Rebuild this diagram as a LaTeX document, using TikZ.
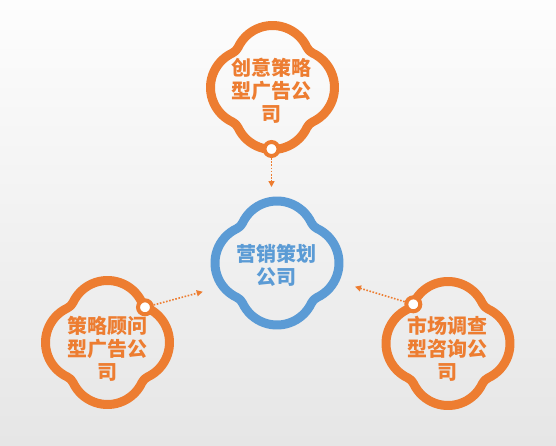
\documentclass[tikz,border=0pt]{standalone}
\usepackage{fontspec}
\newfontfamily\cjk{Noto Sans CJK SC}
\usetikzlibrary{arrows.meta}
\definecolor{orng}{HTML}{ED7D31}
\definecolor{blu}{HTML}{5B9BD5}
\definecolor{bgtop}{HTML}{FDFDFD}
\definecolor{bgbot}{HTML}{E6E6E6}
\newcommand\quatrefoil[2]{%
  \draw[line width=9pt,#2,line join=round]
    ([shift={(40.15,-34.4)}]#1)
    arc[start angle=-64.85,end angle=64.85,radius=38pt]
    arc[start angle=244.85,end angle=205.15,radius=12pt]
    arc[start angle=25.15,end angle=154.85,radius=38pt]
    arc[start angle=334.85,end angle=295.15,radius=12pt]
    arc[start angle=115.15,end angle=244.85,radius=38pt]
    arc[start angle=64.85,end angle=25.15,radius=12pt]
    arc[start angle=205.15,end angle=334.85,radius=38pt]
    arc[start angle=154.85,end angle=115.15,radius=12pt]
    -- cycle;}
\tikzset{
  lbl/.style={align=center,inner sep=0pt,font=\cjk\bfseries\fontsize{20}{23}\selectfont},
  knob/.style={circle,draw=orng,fill=white,line width=4pt,minimum size=14pt,inner sep=0pt},
  link/.style={orng,line width=1.6pt,dash pattern=on 1.6pt off 1.6pt,-{Triangle[length=6pt,width=6pt]}},
}
\begin{document}
\begin{tikzpicture}[x=1pt,y=1pt]
\shade[top color=bgtop,bottom color=bgbot] (0,0) rectangle (556,445);
\useasboundingbox (0,0) rectangle (556,445);
% centres
\coordinate (ctop) at (272.5,357.5);
\coordinate (cmid) at (277,182);
\coordinate (cleft) at (107.5,102.5);
\coordinate (cright) at (448,101.5);
% outlines
\quatrefoil{ctop}{orng}
\quatrefoil{cmid}{blu}
\quatrefoil{cleft}{orng}
\quatrefoil{cright}{orng}
% labels
\node[lbl,text=orng] (ttop) at (271.5,354.5) {创意策略\\型广告公\\司};
\node[lbl,text=blu] (tmid) at (276,180) {营销策划\\公司};
\node[lbl,text=orng] (tleft) at (107,96) {策略顾问\\型广告公\\司};
\node[lbl,text=orng] (tright) at (447,96) {市场调查\\型咨询公\\司};
% knobs
\node[knob] (ktop) at (271.5,296) {};
\node[knob] (kleft) at (145,137.7) {};
\node[knob] (kright) at (413.3,140.7) {};
% arrow ends
\coordinate (etop) at (271.5,258);
\coordinate (eleft) at (202.7,153.3);
\coordinate (eright) at (355,158.3);
\draw[link] (ktop) -- (etop);
\draw[link] (kleft) -- (eleft);
\draw[link] (kright) -- (eright);
\end{tikzpicture}
\end{document}
